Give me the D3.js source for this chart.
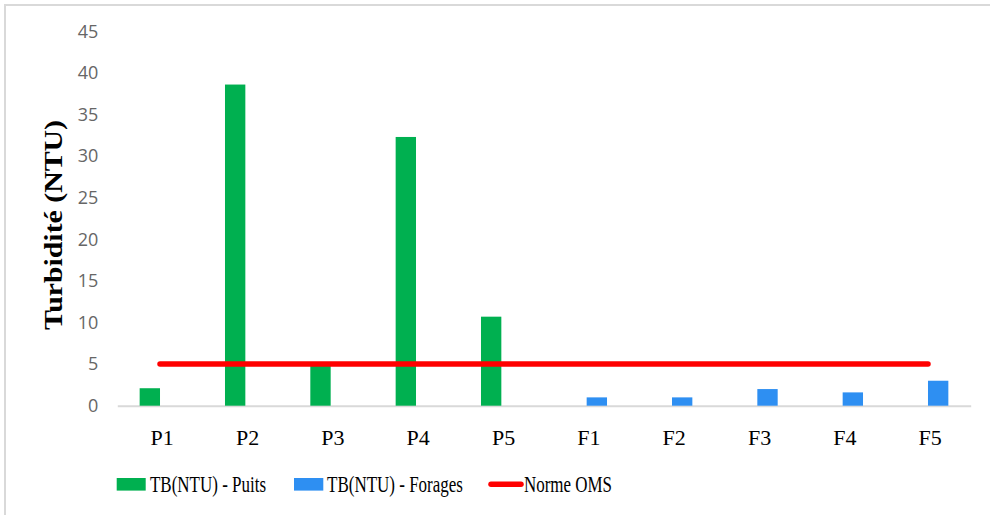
<!DOCTYPE html>
<html>
<head>
<meta charset="utf-8">
<script src="https://cdn.jsdelivr.net/npm/d3@7"></script>
<style>
  html, body { margin: 0; padding: 0; background: #fff; }
  svg { display: block; }
</style>
</head>
<body>
<svg id="chart" width="990" height="515"></svg>
<script>
// Sampling points: wells (P) and boreholes (F)
const categories = ["P1", "P2", "P3", "P4", "P5", "F1", "F2", "F3", "F4", "F5"];
const puitsValues = [2.1, 38.6, 4.9, 32.3, 10.7, null, null, null, null, null];
const foragesValues = [null, null, null, null, null, 1.0, 1.0, 2.0, 1.6, 3.0];
const normeValue = 5;
const yTicks = [0, 5, 10, 15, 20, 25, 30, 35, 40, 45];
const seriesNames = ["TB(NTU) - Puits", "TB(NTU) - Forages", "Norme OMS"];

const colors = { puits: "#00b050", forages: "#2e8ff2", norme: "#ff0000" };

const svg = d3.select("#chart");

// Outer frame
svg.append("path")
  .attr("d", "M5,515 L5,5 L990,5")
  .attr("fill", "none")
  .attr("stroke", "#d9d9d9")
  .attr("stroke-width", 2);

const plot = { left: 117.3, right: 970.7, top: 31.3, bottom: 405.7 };

const x = d3.scaleBand()
  .domain(categories)
  .range([plot.left, plot.right])
  .paddingInner(0.523)
  .paddingOuter(0.262);

const xSub = d3.scaleBand()
  .domain(["puits", "forages"])
  .range([0, x.bandwidth()]);

const y = d3.scaleLinear()
  .domain([0, 45])
  .range([plot.bottom, plot.top]);

// Y axis tick labels (no axis line, no tick marks)
const yAxis = svg.append("g")
  .attr("transform", `translate(${plot.left},0)`)
  .call(d3.axisLeft(y).tickValues(yTicks).tickSize(0).tickPadding(19));
yAxis.select(".domain").remove();
yAxis.selectAll("text")
  .attr("font-family", "'Open Sans', sans-serif")
  .attr("font-size", 18)
  .attr("fill", "#666666");

// X axis baseline and category labels
const xAxis = svg.append("g")
  .attr("transform", `translate(0,${plot.bottom})`)
  .call(d3.axisBottom(x).tickSize(0).tickPadding(24));
xAxis.select(".domain")
  .attr("stroke", "#d9d9d9")
  .attr("stroke-width", 2);
xAxis.selectAll("text")
  .attr("font-family", "'Liberation Serif', 'Times New Roman', serif")
  .attr("font-size", 22)
  .attr("font-weight", "normal")
  .attr("fill", "#000")
  .attr("dx", "0.1em");

// Bars
const barData = [];
categories.forEach((c, i) => {
  if (puitsValues[i] != null) barData.push({ cat: c, key: "puits", value: puitsValues[i] });
  if (foragesValues[i] != null) barData.push({ cat: c, key: "forages", value: foragesValues[i] });
});

svg.append("g").selectAll("rect")
  .data(barData)
  .join("rect")
  .attr("x", d => x(d.cat) + xSub(d.key))
  .attr("width", xSub.bandwidth())
  .attr("y", d => y(d.value))
  .attr("height", d => y(0) - y(d.value))
  .attr("fill", d => colors[d.key]);

// WHO guideline line, drawn across category centres
const lineData = categories.map(c => ({ cat: c, value: normeValue }));
svg.append("path")
  .datum(lineData)
  .attr("fill", "none")
  .attr("stroke", colors.norme)
  .attr("stroke-width", 5.5)
  .attr("stroke-linecap", "round")
  .attr("d", d3.line()
    .x(d => x(d.cat) + x.bandwidth() / 2)
    .y(d => y(d.value)));

// Y axis title
svg.append("text")
  .attr("transform", "translate(62,225) rotate(-90)")
  .attr("text-anchor", "middle")
  .attr("font-family", "'Liberation Serif', 'Times New Roman', serif")
  .attr("font-weight", "bold")
  .attr("font-size", 25)
  .attr("textLength", 210)
  .attr("lengthAdjust", "spacingAndGlyphs")
  .text("Turbidité (NTU)");

// Legend
const legendY = 484.3;
const legend = svg.append("g");
const legendItems = [
  { name: seriesNames[0], type: "rect", color: colors.puits, sx: 116.7, sw: 29, tx: 150, tw: 116 },
  { name: seriesNames[1], type: "rect", color: colors.forages, sx: 294, sw: 29.3, tx: 327, tw: 136 },
  { name: seriesNames[2], type: "line", color: colors.norme, sx: 491, sw: 30, tx: 524, tw: 88 }
];
legendItems.forEach(it => {
  if (it.type === "rect") {
    legend.append("rect")
      .attr("x", it.sx).attr("y", legendY - 6.3)
      .attr("width", it.sw).attr("height", 12.6)
      .attr("fill", it.color);
  } else {
    legend.append("line")
      .attr("x1", it.sx).attr("x2", it.sx + it.sw)
      .attr("y1", legendY).attr("y2", legendY)
      .attr("stroke", it.color)
      .attr("stroke-width", 5.5)
      .attr("stroke-linecap", "round");
  }
  legend.append("text")
    .attr("x", it.tx).attr("y", legendY + 7.8)
    .attr("font-family", "'Liberation Serif', 'Times New Roman', serif")
    .attr("font-size", 23)
    .attr("fill", "#000")
    .attr("textLength", it.tw)
    .attr("lengthAdjust", "spacingAndGlyphs")
    .text(it.name);
});
</script>
</body>
</html>
